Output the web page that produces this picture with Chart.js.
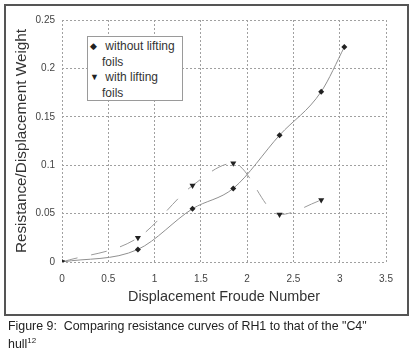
<!DOCTYPE html>
<html>
<head>
<meta charset="utf-8">
<script src="https://cdn.jsdelivr.net/npm/chart.js@4.4.1/dist/chart.umd.min.js"></script>
<style>
  html, body { margin: 0; padding: 0; background: #fff; }
  body { width: 416px; height: 355px; position: relative; overflow: hidden; font-family: "Liberation Sans", Arial, sans-serif; }
  #frame { position: absolute; left: 4px; top: 4px; width: 401px; height: 308px; border: 2px solid #555; box-sizing: content-box; }
  #wrap { position: absolute; left: 0; top: 0; width: 416px; height: 318px; }
  #legend { position: absolute; left: 87px; top: 36px; width: 94px; height: 63px; border: 1px solid #9a9a9a; background: #fff;
            font-size: 12px; line-height: 15.5px; color: #333; }
  #legend .row { position: relative; padding-left: 14px; }
  #legend .mk { position: absolute; left: 2px; top: 0; font-size: 9px; color: #222; }
  #caption { position: absolute; left: 8px; top: 317px; font-size: 12.4px; line-height: 18px; color: #222; white-space: nowrap; }
  #caption sup { font-size: 8px; vertical-align: 5px; line-height: 0; }
</style>
</head>
<body>
<div id="wrap"><canvas id="c" width="416" height="318"></canvas></div>
<div id="frame"></div>
<div id="legend">
  <div class="row" style="margin-top:2px"><span class="mk">◆</span>&nbsp;without lifting<br>foils</div>
  <div class="row"><span class="mk">▼</span>&nbsp;with lifting<br>foils</div>
</div>
<div id="caption">Figure 9:&nbsp; Comparing resistance curves of RH1 to that of the "C4"<br>hull<sup>12</sup></div>
<script>
const froudeWithout = [0, 0.82, 1.41, 1.85, 2.35, 2.80, 3.05];
const resistWithout = [0, 0.013, 0.055, 0.076, 0.131, 0.176, 0.222];
const froudeWith = [0, 0.82, 1.41, 1.85, 2.35, 2.80];
const resistWith = [0, 0.025, 0.079, 0.102, 0.049, 0.064];
const xTicks = [0, 0.5, 1, 1.5, 2, 2.5, 3, 3.5];
const yTicks = [0, 0.05, 0.1, 0.15, 0.2, 0.25];

const pts = (xs, ys) => xs.map((x, i) => ({ x: x, y: ys[i] }));
const FONT = "'Liberation Sans', Arial, sans-serif";

new Chart(document.getElementById('c'), {
  type: 'scatter',
  data: {
    datasets: [
      {
        label: 'without lifting foils',
        data: pts(froudeWithout, resistWithout),
        showLine: true,
        borderColor: '#909090',
        borderWidth: 1,
        cubicInterpolationMode: 'monotone',
        pointStyle: 'rectRot',
        pointRadius: 3,
        pointBackgroundColor: '#222',
        pointBorderColor: '#222',
        pointBorderWidth: 0
      },
      {
        label: 'with lifting foils',
        data: pts(froudeWith, resistWith),
        showLine: true,
        borderColor: '#9a9a9a',
        borderWidth: 1,
        borderDash: [16, 14],
        cubicInterpolationMode: 'monotone',
        pointStyle: 'triangle',
        rotation: 180,
        pointRadius: 3.5,
        pointBackgroundColor: '#222',
        pointBorderColor: '#222',
        pointBorderWidth: 0
      }
    ]
  },
  options: {
    responsive: false,
    animation: false,
    devicePixelRatio: 1,
    layout: { padding: { left: 0, top: 20, right: 30, bottom: 0 } },
    plugins: { legend: { display: false }, tooltip: { enabled: false } },
    scales: {
      x: {
        type: 'linear', min: 0, max: 3.5,
        afterBuildTicks: s => { s.ticks = xTicks.map(v => ({ value: v })); },
        afterFit: s => { s.height = 56; },
        border: { display: false, dash: [2, 2] },
        grid: { color: '#a0a0a0', lineWidth: 1, drawTicks: false },
        ticks: { color: '#444', font: { family: FONT, size: 10 }, padding: 11, maxRotation: 0,
                 callback: v => String(v) },
        title: { display: true, text: 'Displacement Froude Number', color: '#333',
                 font: { family: FONT, size: 14.4 }, padding: { top: 0, bottom: 12 } }
      },
      y: {
        type: 'linear', min: 0, max: 0.25,
        afterBuildTicks: s => { s.ticks = yTicks.map(v => ({ value: v })); },
        afterFit: s => { s.width = 62; },
        border: { display: false, dash: [2, 2] },
        grid: { color: '#a0a0a0', lineWidth: 1, drawTicks: false },
        ticks: { color: '#444', font: { family: FONT, size: 10 }, padding: 7,
                 callback: v => String(v) },
        title: { display: true, text: 'Resistance/Displacement Weight', color: '#333',
                 font: { family: FONT, size: 15.3 }, padding: { top: 13, bottom: 0 } }
      }
    }
  }
});
</script>
</body>
</html>
